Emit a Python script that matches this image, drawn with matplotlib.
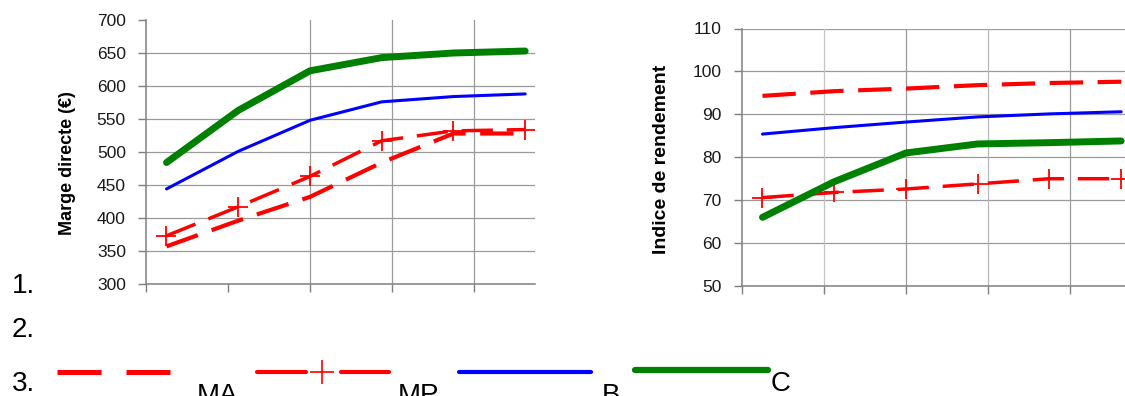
import matplotlib.pyplot as plt
from matplotlib.lines import Line2D

plt.rcParams['font.family'] = ['Liberation Sans', 'DejaVu Sans']

# x positions of the six treatments (same for both charts)
x_vals = [10, 45, 80, 115, 150, 185]
x_ticks = [0, 40, 80, 120, 160]

# left chart: Marge directe (€)
marge_MA = [357, 396, 432, 484, 528, 528]
marge_MP = [373, 417, 463, 517, 532, 534]
marge_B = [444, 501, 548, 576, 584, 588]
marge_C = [484, 563, 623, 643, 650, 653]
marge_ticks = [300, 350, 400, 450, 500, 550, 600, 650, 700]

# right chart: Indice de rendement
indice_MA = [94.3, 95.4, 96.0, 96.8, 97.3, 97.6]
indice_MP = [70.6, 71.8, 72.6, 73.8, 75.0, 75.0]
indice_B = [85.4, 86.9, 88.2, 89.4, 90.1, 90.6]
indice_C = [66.0, 74.3, 81.0, 83.1, 83.4, 83.8]
indice_ticks = [50, 60, 70, 80, 90, 100, 110]

series_names = ['MA', 'MP', 'B', 'C']

W, H = 1125, 396
fig = plt.figure(figsize=(W / 100, H / 100), dpi=100)

def px(x, y):
    return x / W, 1 - y / H

GRID = '#9a9a9a'
AXIS = '#7f7f7f'

def draw(ax, ma, mp, b, c, yticks, xgrid, top_grid):
    ax.plot(x_vals, ma, color='red', lw=3, dashes=(8, 3.5), solid_capstyle='butt')
    ax.plot(x_vals, mp, color='red', lw=2.5, dashes=(9, 4), marker='+',
            markersize=14, markeredgewidth=1.3)
    ax.plot(x_vals, b, color='blue', lw=2.2, solid_capstyle='round')
    ax.plot(x_vals, c, color='green', lw=5, solid_capstyle='round')
    ax.set_xlim(0, 189.8)
    ax.set_ylim(yticks[0], yticks[-1])
    ax.set_yticks(yticks)
    ax.set_xticks(x_ticks)
    ax.set_xticklabels([])
    for s in ['top', 'right']:
        ax.spines[s].set_visible(False)
    for s in ['left', 'bottom']:
        ax.spines[s].set_color(AXIS)
        ax.spines[s].set_linewidth(1.1)
    ax.tick_params(axis='both', direction='out', length=6, width=1, color=AXIS,
                   labelsize=12.5, pad=8.5, labelcolor='#1a1a1a')
    gl = yticks[1:] if top_grid else yticks[1:-1]
    for g in gl:
        ax.axhline(g, color=GRID, lw=0.9, zorder=0)
    for g, col in xgrid:
        ax.axvline(g, color=col, lw=0.9, zorder=0)
    return ax

ax1 = fig.add_axes([146 / W, 1 - 284 / H, 389 / W, 264 / H])
draw(ax1, marge_MA, marge_MP, marge_B, marge_C, marge_ticks,
     [(80, GRID), (120, GRID), (160, GRID)], False)
fig.text(*px(67, 163), 'Marge directe (€)', rotation=90, ha='center', va='center',
         fontsize=13, fontweight='bold')

ax2 = fig.add_axes([742 / W, 1 - 286 / H, 389 / W, 257.5 / H])
draw(ax2, indice_MA, indice_MP, indice_B, indice_C, indice_ticks,
     [(40, '#c4c4c4'), (80, GRID), (120, '#b8b8b8'), (160, GRID)], True)
fig.text(*px(661, 159), 'Indice de rendement', rotation=90, ha='center', va='center',
         fontsize=14, fontweight='bold')

# numbered list
for lab, yb in [('1.', 293), ('2.', 337), ('3.', 391)]:
    fig.text(*px(12, yb), lab, fontsize=20, va='baseline', ha='left')

# legend row
def seg(x0, x1, y, **kw):
    (a, yy), (b, _) = px(x0, y), px(x1, y)
    fig.add_artist(Line2D([a, b], [yy, yy], transform=fig.transFigure, **kw))

seg(57, 171, 372, color='red', lw=3.6, dashes=(8.8, 5), solid_capstyle='butt',
    dash_capstyle='butt')
seg(257, 306, 372, color='red', lw=3, solid_capstyle='round')
seg(341, 389, 372, color='red', lw=3, solid_capstyle='round')
mx, my = px(322, 372)
fig.add_artist(Line2D([mx], [my], transform=fig.transFigure, color='red',
                      marker='+', markersize=17, markeredgewidth=1.2, lw=0))
seg(459, 591, 372, color='blue', lw=3, solid_capstyle='round')
seg(635, 768, 370, color='green', lw=4.5, solid_capstyle='round')

# labels sit low, partly below the bottom edge as in the source page
for name, xl, yb in zip(series_names, [197, 398, 602, 771], [403, 403, 403, 391]):
    fig.text(*px(xl, yb), name, fontsize=20, va='baseline', ha='left')

fig.savefig('out.png', dpi=100)
